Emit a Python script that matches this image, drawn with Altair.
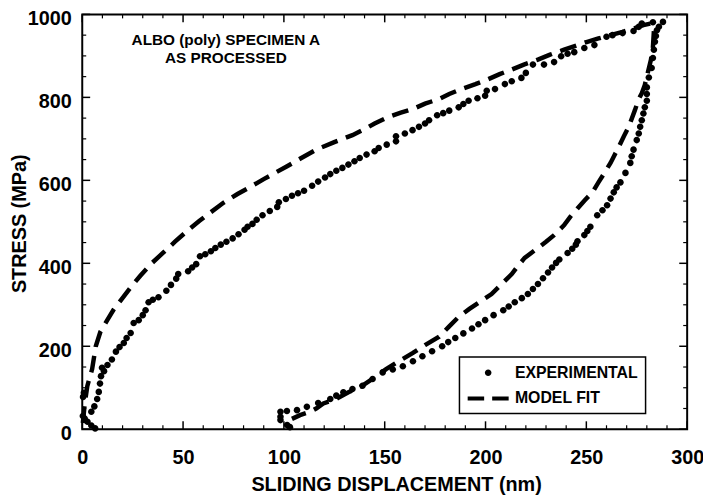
import altair as alt
import pandas as pd

# ---------------- data ----------------
exp_x = [6.4, 4.5, 2.6, 1.2, 0.3, 0.8, 0.4,
         4.5, 6.0, 7.4, 8.2, 8.8, 9.3, 9.8, 10.8, 12.5, 14.7, 16.7, 18.5, 20.6, 22.0, 24.0, 25.5, 28.0, 30.0,
         31.4, 32.9, 35.0, 37.8, 41.7, 44.0, 46.6, 47.6, 52.5, 54.5, 56.5, 58.4, 61.0, 63.8, 66.0, 68.7,
         71.5, 74.6, 77.5, 80.5, 82.0, 84.4, 86.5, 89.4, 93.0, 96.7, 97.5, 101.0, 104.0, 107.0, 110.0,
         114.0, 117.0, 120.4, 123.0, 126.0, 129.0, 132.0, 135.0, 137.6, 141.0, 145.0, 147.0, 151.0, 155.6,
         155.6, 160.0, 163.8, 167.0, 170.0, 172.0, 176.0, 179.0, 182.0, 186.7, 189.0, 191.6, 196.0, 199.8,
         200.6, 204.7, 209.6, 213.0, 217.8, 220.0, 223.5, 229.0, 234.0, 237.5, 240.7, 244.0, 249.0, 254.0,
         260.0, 263.0, 268.0, 273.4, 276.0, 277.5, 283.0, 288.0,
         286.0, 285.0, 284.5, 284.0, 283.5, 283.0, 282.4, 281.0, 280.0, 280.0, 280.0, 279.0, 278.3, 277.5,
         276.7, 276.0, 275.0, 273.4, 272.5, 271.8, 269.4, 266.9, 265.0, 263.6, 262.0, 260.3, 258.0, 255.4,
         252.0, 250.5, 249.0, 245.6, 244.8, 243.0, 240.7, 236.6, 235.0, 233.0, 231.0, 228.5, 226.0, 223.5,
         221.0, 218.0, 214.5, 211.5, 208.8, 204.0, 199.8, 196.5, 193.3, 189.0, 185.0, 181.5, 178.5, 173.5,
         168.7, 164.0, 159.0, 154.0, 149.0, 144.0, 139.0, 134.0, 129.5, 126.0, 123.0, 117.0, 111.4, 106.5,
         101.5, 98.3, 98.3, 98.3, 101.6, 103.0]
exp_y = [2, 9, 18, 26, 32, 88, 78,
         42, 55, 73, 90, 110, 128, 148, 140, 155, 168, 187, 198, 208, 220, 232, 256, 263, 275,
         287, 306, 312, 318, 334, 348, 363, 374, 381, 390, 398, 417, 422, 429, 437, 445,
         452, 460, 470, 481, 488, 495, 505, 516, 526, 536, 547, 555, 563, 569, 575,
         587, 597, 607, 615, 623, 630, 638, 646, 654, 662, 670, 678, 686, 694,
         706, 713, 721, 729, 737, 745, 757, 762, 768, 776, 784, 792, 798, 804,
         816, 820, 832, 839, 847, 859, 879, 879, 885, 899, 905, 909, 919, 926,
         946, 950, 955, 960, 970, 978, 981, 982,
         970, 962, 948, 934, 915, 895, 871, 848, 824, 808, 792, 776, 761, 745,
         729, 713, 697, 674, 658, 642, 618, 595, 583, 571, 556, 540, 528, 516,
         488, 478, 468, 453, 445, 435, 425, 409, 401, 390, 378, 364, 350, 338,
         326, 316, 306, 296, 287, 275, 263, 253, 243, 231, 220, 210, 200, 188,
         176, 164, 152, 144, 137, 121, 105, 97, 89, 81, 73, 63, 54, 46,
         44, 42, 30, 22, 10, 5]

model_x = [0.3, 1.2, 2.5, 4.9, 6.7, 9.0, 12.4, 15.5, 19.0, 24.0, 28.8, 34.0, 40.0, 46.0, 52.5, 58.0,
           64.0, 70.0, 77.0, 84.0, 90.0, 96.0, 101.6, 108.0, 116.0, 125.0, 134.0, 139.0, 145.0, 152.0,
           158.0, 164.0, 170.0, 177.0, 182.0, 188.0, 195.0, 201.4, 207.0, 213.0, 219.0, 226.0, 232.0,
           239.0, 245.0, 250.5, 256.0, 262.0, 268.0, 273.4, 278.3, 282.0,
           283.5, 283.0, 282.0, 280.5, 279.0, 277.5, 276.0, 274.0, 271.0, 268.5, 266.5, 264.5, 262.0,
           259.0, 256.0, 253.0, 249.0, 245.6, 242.0, 239.0, 234.0, 230.0, 226.0, 219.4, 216.0, 213.0,
           208.0, 203.0, 198.0, 192.0, 186.7, 182.0, 177.0, 170.0, 164.0, 157.0, 150.7, 145.0, 139.0,
           132.0, 126.0, 119.6, 116.0, 113.0, 108.0, 104.0]
model_y = [15, 60, 104, 145, 200, 235, 263, 288, 310, 342, 370, 398, 425, 452, 480, 502,
           524, 546, 567, 586, 603, 619, 634, 652, 674, 692, 709, 721, 737, 753,
           763, 772, 785, 796, 808, 820, 832, 844, 856, 867, 879, 891, 903,
           915, 925, 934, 942, 950, 958, 966, 974, 978,
           960, 920, 890, 860, 830, 810, 796, 768, 729, 705, 685, 666, 642,
           618, 595, 571, 551, 532, 512, 492, 468, 452, 437, 413, 393, 374,
           350, 326, 310, 290, 271, 248, 223, 203, 184, 164, 145, 125, 105,
           89, 73, 62, 50, 42, 34, 25]

series_names = ["EXPERIMENTAL", "MODEL FIT"]
x_major = [0, 50, 100, 150, 200, 250, 300]
x_minor = [v for v in range(0, 301, 10) if v % 50 != 0]
y_major = [0, 200, 400, 600, 800, 1000]
y_minor = [v for v in range(0, 1001, 50) if v % 200 != 0]
note_lines = ["ALBO (poly) SPECIMEN A", "AS PROCESSED"]

# ---------------- layout ----------------
W, H = 611, 419
FONT = "Liberation Sans"
MAJ, MIN = 8, 4

exp_df = pd.DataFrame({"x": exp_x, "y": exp_y, "series": series_names[0]})
model_df = pd.DataFrame({"x": model_x, "y": model_y, "i": list(range(len(model_x)))})

xs = alt.Scale(domain=[0, 300], nice=False, zero=False)
ys = alt.Scale(domain=[0, 1000], nice=False, zero=False)

x_axis = alt.Axis(values=x_major, format="d", ticks=False, tickSize=0, domain=False, grid=False,
                  labelFont=FONT, labelFontSize=20, labelFontWeight="bold", labelColor="black",
                  labelPadding=19, labelFlush=False,
                  title="SLIDING DISPLACEMENT (nm)", titleFont=FONT, titleFontSize=20,
                  titleFontWeight="bold", titleColor="black", titleX=317, titleY=62,
                  titleBaseline="alphabetic")
y_axis = alt.Axis(values=y_major, format="d", ticks=False, tickSize=0, domain=False, grid=False,
                  labelFont=FONT, labelFontSize=20, labelFontWeight="bold", labelColor="black",
                  labelPadding=11, labelOffset=4, labelFlush=False,
                  title="STRESS (MPa)", titleFont=FONT, titleFontSize=20,
                  titleFontWeight="bold", titleColor="black", titleX=-57, titleY=211,
                  titleAngle=-90, titleBaseline="alphabetic")

CIRCLE = "M-0.37,0 A0.37,0.37 0 1,0 0.37,0 A0.37,0.37 0 1,0 -0.37,0 Z"
DASHES = ("M-2.3,-0.23 L-0.45,-0.23 L-0.45,0.23 L-2.3,0.23 Z "
          "M0.45,-0.23 L2.3,-0.23 L2.3,0.23 L0.45,0.23 Z")

points = alt.Chart(exp_df).mark_point(filled=True, size=324, opacity=1, color="black",
                                      strokeWidth=0).encode(
    x=alt.X("x:Q", scale=xs, axis=x_axis),
    y=alt.Y("y:Q", scale=ys, axis=y_axis),
    shape=alt.Shape("series:N",
                    scale=alt.Scale(domain=series_names, range=[CIRCLE, DASHES]),
                    legend=alt.Legend(title=None, orient="none", legendX=381, legendY=346,
                                      padding=7, strokeColor="black",
                                      symbolSize=324, symbolOffset=13, symbolStrokeWidth=0,
                                      symbolFillColor="black", labelOffset=18,
                                      rowPadding=9, labelFont=FONT, labelFontSize=16,
                                      labelFontWeight="bold",
                                      labelColor="black", labelLimit=0)),
)

model = alt.Chart(model_df).mark_line(color="black", strokeWidth=4.5,
                                      strokeDash=[17, 9], strokeCap="butt").encode(
    x=alt.X("x:Q", scale=xs),
    y=alt.Y("y:Q", scale=ys),
    order="i:Q",
)

note = alt.Chart(pd.DataFrame({"k": [0]})).mark_text(
    text=note_lines, align="center", baseline="top", lineHeight=18,
    font=FONT, fontSize=15.5, fontWeight="bold", color="black",
).encode(x=alt.value(145), y=alt.value(19))


def tick_layer(vals, channel, side, length, sw):
    df = pd.DataFrame({"v": vals})
    base = alt.Chart(df).mark_rule(color="black", strokeWidth=sw)
    if channel == "x":
        y0 = H if side == "low" else 0
        y1 = H - length if side == "low" else length
        return base.encode(x=alt.X("v:Q", scale=xs), y=alt.value(y0), y2=alt.value(y1))
    x0 = 0 if side == "low" else W
    x1 = length if side == "low" else W - length
    return base.encode(y=alt.Y("v:Q", scale=ys), x=alt.value(x0), x2=alt.value(x1))


ticks = [
    tick_layer(x_major, "x", "low", MAJ, 1.5), tick_layer(x_minor, "x", "low", MIN, 1.2),
    tick_layer(x_major, "x", "high", MAJ, 1.5), tick_layer(x_minor, "x", "high", MIN, 1.2),
    tick_layer(y_major, "y", "low", MAJ, 1.5), tick_layer(y_minor, "y", "low", MIN, 1.2),
    tick_layer(y_major, "y", "high", MAJ, 1.5), tick_layer(y_minor, "y", "high", MIN, 1.2),
]

chart = alt.layer(*ticks, model, points, note).properties(
    width=W, height=H,
    autosize=alt.AutoSizeParams(type="none"),
    padding={"left": 75, "top": 4, "right": 16, "bottom": 69},
).configure_view(stroke="black", strokeWidth=2).configure_legend(strokeWidth=1.5)

chart.save("out.html", embed_options={"renderer": "svg", "actions": False})
